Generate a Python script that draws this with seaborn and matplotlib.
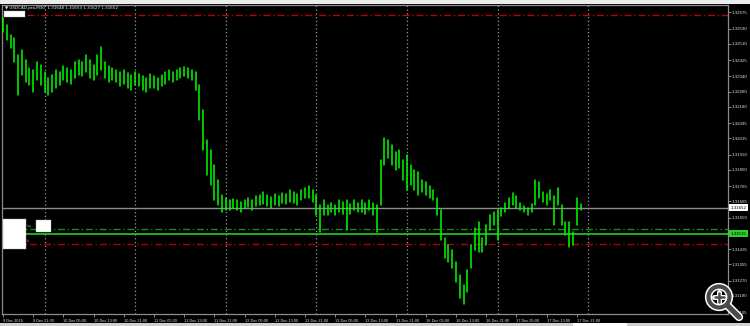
import matplotlib
matplotlib.use("Agg")
import matplotlib.pyplot as plt
from matplotlib.transforms import Affine2D, blended_transform_factory
from matplotlib.patches import Rectangle, Circle
import pandas as pd
import seaborn as sns

# ---------------- data (USDCAD M30, hourly groups of bars) ----------------
highs = [
    1.32646, 1.32609, 1.32557, 1.32541, 1.32452, 1.32478, 1.32426, 1.32384, 1.32373, 1.32415,
    1.32399, 1.32363, 1.32331, 1.32347, 1.32373, 1.32363, 1.32394, 1.32384, 1.32373, 1.32415,
    1.32426, 1.32415, 1.32452, 1.32426, 1.32399, 1.32452, 1.32494, 1.32415, 1.32394, 1.32384,
    1.32373, 1.32363, 1.32373, 1.32358, 1.32347, 1.32363, 1.32352, 1.32342, 1.32331, 1.32352,
    1.32342, 1.32331, 1.32347, 1.32363, 1.32373, 1.32363, 1.32373, 1.32384, 1.32389, 1.32384,
    1.32373, 1.32363, 1.32295, 1.32164, 1.32006, 1.31954, 1.31875, 1.31797, 1.31718, 1.31702,
    1.31692, 1.31697, 1.31692, 1.31681, 1.31692, 1.31702, 1.31692, 1.31713, 1.31718, 1.31734,
    1.31718, 1.31708, 1.31723, 1.31713, 1.31729, 1.31723, 1.31744, 1.31734, 1.31723, 1.31744,
    1.31755, 1.31765, 1.31744, 1.31718, 1.31666, 1.31692, 1.31666, 1.31676, 1.31666, 1.31692,
    1.31681, 1.31692, 1.31671, 1.31692, 1.31676, 1.31692, 1.31676, 1.31692, 1.31676, 1.31666,
    1.31902, 1.32017, 1.32006, 1.31980, 1.31944, 1.31954, 1.31902, 1.31928, 1.31875, 1.31849,
    1.31839, 1.31797, 1.31786, 1.31765, 1.31744, 1.31702, 1.31640, 1.31493, 1.31456, 1.31430,
    1.31367, 1.31299, 1.31247, 1.31325, 1.31456, 1.31545, 1.31577, 1.31493, 1.31561, 1.31613,
    1.31629, 1.31640, 1.31650, 1.31676, 1.31702, 1.31729, 1.31713, 1.31676, 1.31661, 1.31650,
    1.31671, 1.31797, 1.31786, 1.31734, 1.31723, 1.31744, 1.31713, 1.31755, 1.31666, 1.31577,
    1.31577, 1.31524, 1.31702, 1.31671,
]
lows = [
    1.32572, 1.32530, 1.32489, 1.32415, 1.32242, 1.32347, 1.32310, 1.32295, 1.32258, 1.32321,
    1.32295, 1.32258, 1.32242, 1.32258, 1.32279, 1.32295, 1.32321, 1.32310, 1.32300, 1.32331,
    1.32347, 1.32342, 1.32363, 1.32331, 1.32321, 1.32347, 1.32373, 1.32331, 1.32310, 1.32321,
    1.32310, 1.32289, 1.32300, 1.32279, 1.32268, 1.32295, 1.32289, 1.32268, 1.32258, 1.32279,
    1.32279, 1.32268, 1.32289, 1.32300, 1.32321, 1.32310, 1.32321, 1.32331, 1.32342, 1.32331,
    1.32321, 1.32268, 1.32111, 1.31954, 1.31823, 1.31771, 1.31692, 1.31666, 1.31629, 1.31640,
    1.31640, 1.31650, 1.31640, 1.31629, 1.31650, 1.31655, 1.31640, 1.31661, 1.31666, 1.31671,
    1.31661, 1.31650, 1.31666, 1.31661, 1.31676, 1.31671, 1.31681, 1.31676, 1.31666, 1.31692,
    1.31702, 1.31702, 1.31681, 1.31613, 1.31524, 1.31613, 1.31613, 1.31629, 1.31613, 1.31629,
    1.31619, 1.31535, 1.31619, 1.31640, 1.31629, 1.31629, 1.31619, 1.31640, 1.31613, 1.31524,
    1.31666, 1.31875, 1.31912, 1.31875, 1.31849, 1.31860, 1.31797, 1.31744, 1.31771, 1.31744,
    1.31718, 1.31734, 1.31718, 1.31702, 1.31692, 1.31613, 1.31482, 1.31388, 1.31367, 1.31336,
    1.31262, 1.31179, 1.31147, 1.31210, 1.31336, 1.31430, 1.31420, 1.31420, 1.31456, 1.31535,
    1.31561, 1.31482, 1.31608, 1.31629, 1.31650, 1.31666, 1.31650, 1.31640, 1.31629, 1.31613,
    1.31629, 1.31666, 1.31702, 1.31681, 1.31666, 1.31692, 1.31561, 1.31666, 1.31561, 1.31509,
    1.31446, 1.31456, 1.31561, 1.31640,
]
hours = list(range(len(highs)))

x_tick_pos = [0, 8, 16, 24, 32, 40, 48, 56, 64, 72, 80, 88, 96, 104, 112, 120, 128, 136, 144, 152]
x_tick_labels = ["9 Dec 2019", "9 Dec 21:00", "10 Dec 05:00", "10 Dec 13:00", "10 Dec 21:00",
                 "11 Dec 05:00", "11 Dec 13:00", "11 Dec 21:00", "12 Dec 05:00", "12 Dec 13:00",
                 "12 Dec 21:00", "13 Dec 05:00", "13 Dec 13:00", "13 Dec 21:00", "16 Dec 05:00",
                 "16 Dec 13:00", "16 Dec 21:00", "17 Dec 05:00", "17 Dec 13:00", "17 Dec 21:00"]
y_ticks = [1.32675, 1.32590, 1.32510, 1.32425, 1.32340, 1.32260, 1.32180, 1.32095, 1.32015, 1.31930,
           1.31850, 1.31765, 1.31685, 1.31600, 1.31515, 1.31435, 1.31355, 1.31270, 1.31190, 1.31105]
day_separators = [11, 35, 59, 83, 107, 131, 155]

title = "\u25bc USDCAD.pro,M30  1.31648 1.31653 1.31627 1.31652"
bid_price = 1.31652
tp_level = 1.32663        # red dash-dot (top)
buy_stop_level = 1.31539  # green dash-dot
buy_level = 1.31515       # green solid
sl_level = 1.31463        # red dash-dot (bottom)

# ---------------- figure ----------------
sns.set_theme(style="dark")
plt.rcParams["font.family"] = ["Liberation Sans", "DejaVu Sans"]

W, H = 750, 326
fig = plt.figure(figsize=(W / 100, H / 100), dpi=100, facecolor="black")
pxT = Affine2D().scale(1 / W, -1 / H).translate(0, 1) + fig.transFigure

left_px, right_px, top_px, bot_px = 2.0, 727.5, 4.5, 314.0
ax = fig.add_axes([left_px / W, 1 - bot_px / H, (right_px - left_px) / W, (bot_px - top_px) / H])
ax.set_facecolor("black")

px_per_hour = 3.775
x0_px = 3.0
ax.set_xlim((left_px - x0_px) / px_per_hour, (right_px - x0_px) / px_per_hour)
ax.set_ylim(1.310946, 1.327164)

# day separators (grid)
for d in day_separators:
    ax.axvline(d, color="#9a9a9a", lw=0.9, ls=(0, (1, 2)), zorder=1)

# bars drawn via seaborn lineplot (one unit per bar)
df = pd.DataFrame({
    "hour": hours + hours,
    "price": highs + lows,
    "bar": hours + hours,
})
sns.lineplot(data=df, x="hour", y="price", units="bar", estimator=None, sort=False,
             color="#00ff00", lw=1.1, ax=ax, legend=False, zorder=3)

# level lines
f27 = (27 - left_px) / (right_px - left_px)
ax.axhline(tp_level, xmin=f27, color="#c00000", lw=1.0, ls=(0, (5, 2, 1, 2)), zorder=2)
ax.axhline(bid_price, color="#8c8c8c", lw=1.0, zorder=2)
ax.axhline(buy_stop_level, color="#1a8a1a", lw=1.0, ls=(0, (5, 2, 1, 2)), zorder=2)
ax.axhline(buy_level, color="#22d022", lw=1.2, zorder=2)
ax.axhline(sl_level, color="#b00000", lw=1.0, ls=(0, (5, 2, 1, 2)), zorder=2)

# axes cosmetics
for s in ax.spines.values():
    s.set_color("#8c8c8c")
    s.set_linewidth(0.9)
ax.set_xlabel("")
ax.set_ylabel("")
ax.set_xticks(x_tick_pos)
ax.set_xticklabels(x_tick_labels)
for lab in ax.get_xticklabels():
    lab.set_horizontalalignment("left")
ax.yaxis.tick_right()
ax.set_yticks(y_ticks)
ax.set_yticklabels([f"{v:.5f}" for v in y_ticks])
ax.tick_params(axis="x", direction="out", length=2.5, width=0.6, color="#a0a0a0",
               labelsize=2.8, labelcolor="#e0e0e0", pad=0.8, bottom=True)
ax.tick_params(axis="y", direction="out", length=2.0, width=0.6, color="#a0a0a0",
               labelsize=3.2, labelcolor="#e0e0e0", pad=1.0, right=True, left=False)
ax.grid(False)

# right-hand price labels
bt = blended_transform_factory(ax.transAxes, ax.transData)
ax.text(1.004, bid_price, f"{bid_price:.5f}", transform=bt, fontsize=3.2, color="black",
        va="center", ha="left", zorder=10, clip_on=False,
        bbox=dict(boxstyle="square,pad=0.35", fc="white", ec="none"))
ax.text(1.004, buy_level, f"{buy_level:.5f}", transform=bt, fontsize=3.2, color="black",
        va="center", ha="left", zorder=10, clip_on=False,
        bbox=dict(boxstyle="square,pad=0.35", fc="#2ad42a", ec="none"))

# window strips
fig.patches.append(Rectangle((0, 0), W, 3.8, transform=pxT, fc="#ececec", ec="none", zorder=0))
fig.patches.append(Rectangle((0, 322.5), W, 4, transform=pxT, fc="#d0d0d0", ec="none", zorder=0))
fig.patches.append(Rectangle((573, 322.5), 54, 4, transform=pxT, fc="#ffffff", ec="none", zorder=0))

# title
fig.text(5 / W, 1 - 7.6 / H, title, fontsize=3.0, color="#f0f0f0", va="center", ha="left",
         family=["DejaVu Sans"])

# white overlay boxes
for (x, y, w, h) in [(4, 11.3, 21, 5.4), (3, 219.3, 22.7, 30), (35.7, 220, 15.3, 12.3)]:
    fig.patches.append(Rectangle((x, y), w, h, transform=pxT, fc="white", ec="#b0b0b0",
                                 lw=0.3, zorder=20))
fig.text(27 / W, 1 - 226.5 / H, "buy", fontsize=2.3, color="#9a9a9a", va="center", ha="left")
fig.text(27 / W, 1 - 241 / H, "sl", fontsize=2.3, color="#9a9a9a", va="center", ha="left")

# magnifier icon
cx, cy = 719, 297
fig.patches.append(Circle((cx, cy), 10.5, transform=pxT, fc="none", ec="white", lw=5.2, zorder=30))
fig.patches.append(Circle((cx, cy), 10.5, transform=pxT, fc="none", ec="#4a4a4a", lw=3.0, zorder=31))
for (xs, ys, lw, c, z) in [([727, 739], [305, 317], 6.0, "white", 30), ([727, 739], [305, 317], 3.8, "#4a4a4a", 31),
                           ([714, 724], [297, 297], 3.6, "white", 32), ([719, 719], [292, 302], 3.6, "white", 32),
                           ([714.5, 723.5], [297, 297], 1.8, "#4a4a4a", 33), ([719, 719], [292.5, 301.5], 1.8, "#4a4a4a", 33)]:
    fig.lines.append(plt.Line2D(xs, ys, transform=pxT, lw=lw, color=c, solid_capstyle="round", zorder=z))

fig.savefig("out.png", dpi=100, facecolor="black")
